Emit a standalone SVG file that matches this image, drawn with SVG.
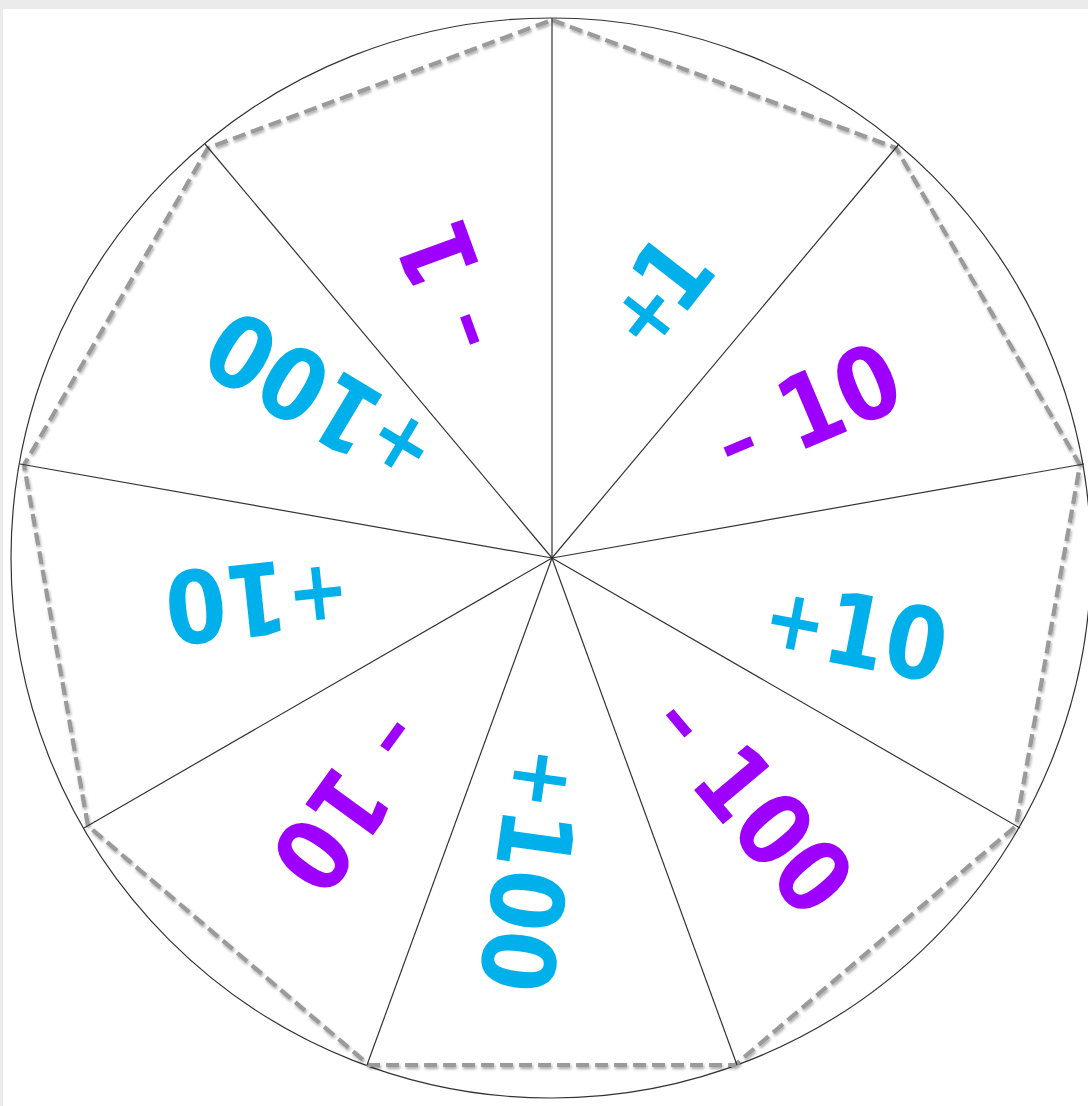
<svg xmlns="http://www.w3.org/2000/svg" width="1088" height="1106" viewBox="0 0 1088 1106">
<defs>
<style>
.lbl{font-family:"DejaVu Sans","Liberation Sans",sans-serif;font-weight:bold;font-size:100px;text-anchor:middle}
.cy{fill:#00b0eb}
.pu{fill:#9e00ff}
.pl{font-size:84px}
.dash{font-weight:normal;font-size:125px}
.spoke{stroke:#333;stroke-width:1.2;fill:none}
</style>
<filter id="sh" x="-5%" y="-5%" width="110%" height="110%">
<feGaussianBlur in="SourceAlpha" stdDeviation="1.6" result="b"/>
<feOffset in="b" dx="1" dy="1.5" result="o"/>
<feComponentTransfer in="o" result="s"><feFuncA type="linear" slope="0.35"/></feComponentTransfer>
<feMerge><feMergeNode in="s"/><feMergeNode in="SourceGraphic"/></feMerge>
</filter>
</defs>
<rect x="0" y="0" width="1088" height="1106" fill="#ebebeb"/>
<rect x="3" y="9" width="1085" height="1097" fill="#ffffff"/>
<g id="wheel">
<circle cx="551" cy="558" r="540" fill="none" stroke="#333" stroke-width="1.2"/>
<polygon points="552,20 896,148 1080,465 1016,826 735,1065 369,1065 88,826 24,465 208,148" fill="none" stroke="#9a9a9a" stroke-width="4.2" stroke-dasharray="13,6" filter="url(#sh)"/>
</g>
<g id="spokes">
<line class="spoke" x1="552" y1="558" x2="552" y2="18"/>
<line class="spoke" x1="552" y1="558" x2="899" y2="144"/>
<line class="spoke" x1="552" y1="558" x2="1084" y2="464"/>
<line class="spoke" x1="552" y1="558" x2="1020" y2="828"/>
<line class="spoke" x1="552" y1="558" x2="737" y2="1065"/>
<line class="spoke" x1="552" y1="558" x2="367" y2="1065"/>
<line class="spoke" x1="552" y1="558" x2="84" y2="828"/>
<line class="spoke" x1="552" y1="558" x2="20" y2="464"/>
<line class="spoke" x1="552" y1="558" x2="205" y2="144"/>
</g>
<g id="label-a" transform="translate(656,292) rotate(-52)"><text class="lbl cy" transform="scale(0.88,1)" y="36.5"><tspan class="pl" dy="-3">+</tspan><tspan dx="-14" dy="3">1</tspan></text></g>
<g id="label-b" transform="translate(806,409) rotate(-23)"><text class="lbl pu" transform="scale(0.88,1)" y="36.5"><tspan class="dash" dy="6">-</tspan><tspan dy="-6"> 10</tspan></text></g>
<g id="label-c" transform="translate(856,630) rotate(11)"><text class="lbl cy" transform="scale(0.88,1)" y="36.5"><tspan class="pl" dy="-5">+</tspan><tspan dy="5">10</tspan></text></g>
<g id="label-d" transform="translate(752,802) rotate(50)"><text class="lbl pu" transform="scale(0.88,1)" y="36.5"><tspan class="dash" dy="3">-</tspan><tspan dy="-3"> 100</tspan></text></g>
<g id="label-e" transform="translate(532,870) rotate(98)"><text class="lbl cy" transform="scale(0.88,1)" y="36.5"><tspan class="pl" dy="-5">+</tspan><tspan dy="5">100</tspan></text></g>
<g id="label-f" transform="translate(352,802) rotate(126)"><text class="lbl pu" transform="scale(0.88,1)" y="36.5"><tspan class="dash" dy="3">-</tspan><tspan dy="-3"> 10</tspan></text></g>
<g id="label-g" transform="translate(257,600) rotate(174)"><text class="lbl cy" transform="scale(0.88,1)" y="36.5"><tspan class="pl" dy="-10">+</tspan><tspan dy="10">10</tspan></text></g>
<g id="label-h" transform="translate(320,400) rotate(211)"><text class="lbl cy" transform="scale(0.88,1)" y="36.5"><tspan class="pl" dy="-5">+</tspan><tspan dy="5">100</tspan></text></g>
<g id="label-i" transform="translate(449,288) rotate(-110)"><text class="lbl pu" transform="scale(0.88,1)" y="36.5"><tspan class="dash" dy="3">-</tspan><tspan dy="-3"> 1</tspan></text></g>
</svg>
